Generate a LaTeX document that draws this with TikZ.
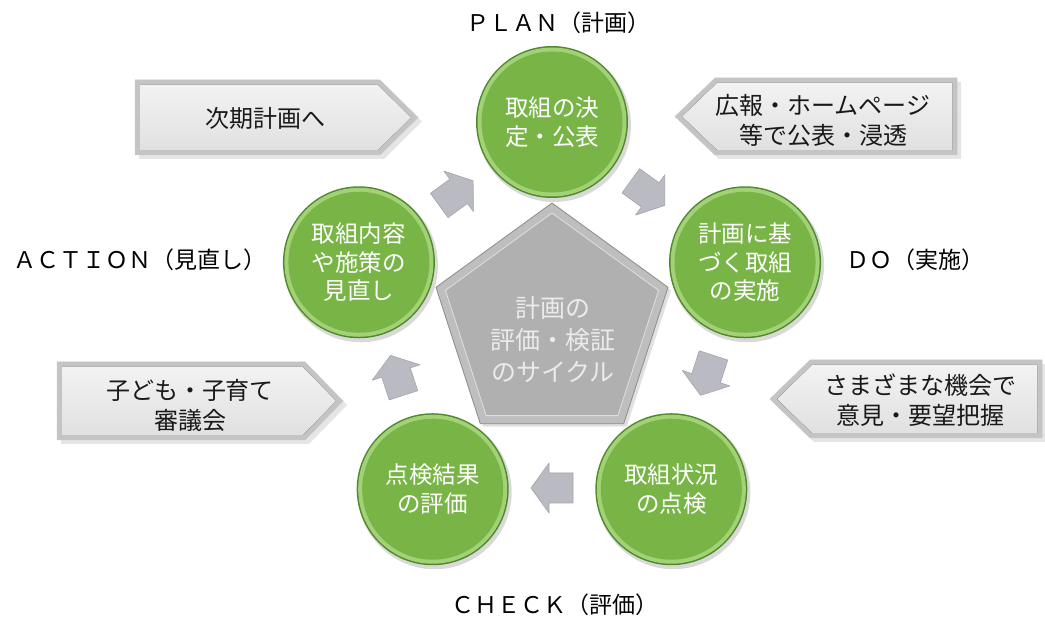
\documentclass[tikz,border=0pt]{standalone}
\usepackage{fontspec}
\setmainfont{Noto Sans CJK JP}
\usetikzlibrary{calc}
\definecolor{gedge}{HTML}{4F8A2A}
\definecolor{grim}{HTML}{A3D177}
\definecolor{gmain}{HTML}{78B446}
\definecolor{arrowgray}{HTML}{BABAC2}
\definecolor{arrowedge}{HTML}{A4A4AC}
\definecolor{calloutout}{HTML}{C4C4C4}
\definecolor{pentout}{HTML}{BEBEBE}
\definecolor{pentin}{HTML}{B0B0B0}
\begin{document}
\begin{tikzpicture}[x=1pt,y=1pt,
  ctext/.style={text=white,font=\fontsize{23.5}{28.5}\selectfont,align=center,inner sep=0pt},
  ptext/.style={text=black!8,font=\fontsize{25}{32}\selectfont,align=center,inner sep=0pt},
  btext/.style={text=black!90,font=\fontsize{24}{30}\selectfont,align=center,inner sep=0pt},
  ltext/.style={text=black,font=\fontsize{23}{28}\selectfont,inner sep=0pt},
  blockarrow/.style={fill=arrowgray,draw=arrowedge,line width=0.6pt,line join=round},
  coutside/.style={fill=calloutout,draw=black!22,line width=0.5pt},
  cinside/.style={top color=black!5,bottom color=black!12},
  cshadow/.style={fill=black,opacity=0.10}]
\useasboundingbox (0,0) rectangle (1045,623);
\coordinate (C) at (552,298);

% pentagon
\fill[black,opacity=0.12] ($(C)+(3,-3)$) ++(90:122) -- ($(C)+(3,-3)+(162:122)$) -- ($(C)+(3,-3)+(234:122)$) -- ($(C)+(3,-3)+(306:122)$) -- ($(C)+(3,-3)+(18:122)$) -- cycle;
\filldraw[fill=pentout,draw=black!45,line width=0.8pt] ($(C)+(90:122)$) -- ($(C)+(162:122)$) -- ($(C)+(234:122)$) -- ($(C)+(306:122)$) -- ($(C)+(18:122)$) -- cycle;
\filldraw[fill=pentin,draw=black!12,line width=0.8pt] ($(C)+(90:112)$) -- ($(C)+(162:112)$) -- ($(C)+(234:112)$) -- ($(C)+(306:112)$) -- ($(C)+(18:112)$) -- cycle;
\node[ptext] (pent) at (553,283) {計画の\\評価・検証\\のサイクル};

% circles
\foreach \ang/\nm in {90/cplan,18/cdo,-54/ccheck,-126/ceval,162/cact}{
  \coordinate (\nm) at ($(C)+(\ang:203)$);
  \fill[black,opacity=0.15] ($(\nm)+(2,-3)$) circle (77);
  \fill[gedge] (\nm) circle (76);
  \fill[grim] (\nm) circle (74.5);
  \fill[gmain] (\nm) circle (70.5);
}
\node[ctext] (tplan) at (cplan) {取組の決\\定・公表};
\node[ctext] (tdo) at (cdo) {計画に基\\づく取組\\の実施};
\node[ctext] (tcheck) at (ccheck) {取組状況\\の点検};
\node[ctext] (teval) at (ceval) {点検結果\\の評価};
\node[ctext] (tact) at (cact) {取組内容\\や施策の\\見直し};

% block arrows
\foreach \ang/\nm in {-90/a1,-18/a2,54/a3,126/a4,198/a5}{
  \coordinate (\nm) at ($(C)+(\ang:163)$);
  \begin{scope}[shift={(\nm)},rotate=\ang-90]
    \filldraw[blockarrow] (-21,-15) -- (3,-15) -- (3,-25) -- (21,0) -- (3,25) -- (3,15) -- (-21,15) -- cycle;
  \end{scope}
}

% callouts
\fill[cshadow] (139,539) -- (384,539) -- (422,501.5) -- (384,464) -- (139,464) -- cycle;
\filldraw[coutside] (135,543) -- (380,543) -- (418,505.5) -- (380,468) -- (135,468) -- cycle;
\fill[cinside] (140,538) -- (378,538) -- (411,505.5) -- (378,473) -- (140,473) -- cycle;
\node[btext] (bnext) at (265,505) {次期計画へ};

\fill[cshadow] (61,257) -- (309,257) -- (347,218) -- (309,179) -- (61,179) -- cycle;
\filldraw[coutside] (57,261) -- (305,261) -- (343,222) -- (305,183) -- (57,183) -- cycle;
\fill[cinside] (62,256) -- (303,256) -- (336,222) -- (303,188) -- (62,188) -- cycle;
\node[btext] (bcouncil) at (190,218) {子ども・子育て\\審議会};

\fill[cshadow] (679,502.5) -- (719,541) -- (961,541) -- (961,464) -- (719,464) -- cycle;
\filldraw[coutside] (675,506.5) -- (715,545) -- (957,545) -- (957,468) -- (715,468) -- cycle;
\fill[cinside] (682,506.5) -- (717,540) -- (952,540) -- (952,473) -- (717,473) -- cycle;
\node[btext] (bpr) at (823,503) {広報・ホームページ\\等で公表・浸透};

\fill[cshadow] (774,220) -- (814,259) -- (1045,259) -- (1045,181) -- (814,181) -- cycle;
\filldraw[coutside] (770,224) -- (810,263) -- (1042,263) -- (1042,185) -- (810,185) -- cycle;
\fill[cinside] (777,224) -- (812,258) -- (1037,258) -- (1037,190) -- (812,190) -- cycle;
\node[btext] (bopinion) at (920,223) {さまざまな機会で\\意見・要望把握};

% labels
\node[ltext] (lplan) at (558,600) {ＰＬＡＮ（計画）};
\node[ltext] (lact) at (140,363) {ＡＣＴＩＯＮ（見直し）};
\node[ltext] (ldo) at (915,363) {ＤＯ（実施）};
\node[ltext] (lcheck) at (555,18) {ＣＨＥＣＫ（評価）};
\end{tikzpicture}
\end{document}
